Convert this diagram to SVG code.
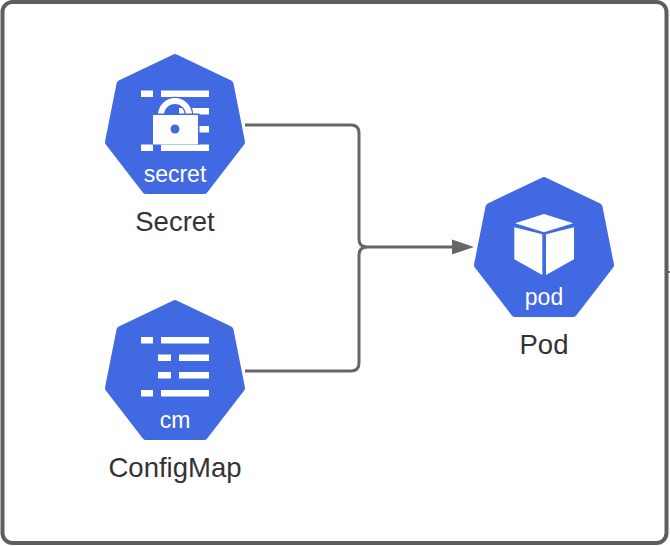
<svg xmlns="http://www.w3.org/2000/svg" width="670" height="546" viewBox="0 0 670 546">
<style>
.hept{fill:#4169e1;stroke:#4169e1;stroke-width:8;stroke-linejoin:round}
.w{fill:#fff}
.in{font:23px "Liberation Sans",Arial,sans-serif;fill:#fff;text-anchor:middle}
.lb{font:27.500px "Liberation Sans",Arial,sans-serif;fill:#333;text-anchor:middle}
.c{fill:none;stroke:#666;stroke-width:3}
</style>
<defs>
<polygon id="h" class="hept" points="70,4 124.500,30 136,88 99,136 41,136 4,88 15.500,30"/>
<marker id="arr" markerUnits="userSpaceOnUse" markerWidth="22" markerHeight="16" refX="3" refY="8" orient="auto"><path d="M0,0.500L22,8L0,15.500Z" fill="#666"/></marker>
</defs>
<rect x="2.500" y="2" width="664" height="541" rx="10" fill="#fff" stroke="#5e5e5e" stroke-width="4"/>
<path d="M668,272H670" stroke="#444" stroke-width="1.500"/>
<g id="connectors">
<path class="c" d="M245,125H351Q359,125 359,133V239Q359,247 367,247H455" marker-end="url(#arr)"/>
<path class="c" d="M245,371H351Q359,371 359,363V255Q359,247 367,247"/>
</g>
<g id="secret">
<use href="#h" x="105" y="54"/>
<rect class="w" x="141" y="90.500" width="12" height="6.500"/><rect class="w" x="161" y="90.500" width="48" height="6.500"/>
<rect class="w" x="179" y="108" width="30" height="6.500"/><rect class="w" x="198" y="126" width="11" height="6.500"/>
<rect class="w" x="141" y="144.500" width="12" height="6.500"/><rect class="w" x="161" y="144.500" width="48" height="6.500"/>
<path d="M161,116V115a14,14 0 0 1 28,0V116" fill="none" stroke="#4169e1" stroke-width="8.500"/>
<path d="M161,116V115a14,14 0 0 1 28,0V116" fill="none" stroke="#fff" stroke-width="6"/>
<rect x="151.500" y="113.500" width="48" height="31" fill="#4169e1"/>
<rect class="w" x="153" y="115" width="45" height="29.500"/>
<circle cx="175" cy="129" r="4.500" fill="#4169e1"/>
<text class="in" x="175" y="181.700">secret</text>
<text class="lb" x="175" y="231">Secret</text>
</g>
<g id="configmap">
<use href="#h" x="105" y="300"/>
<rect class="w" x="141" y="337" width="12" height="6.500"/><rect class="w" x="161" y="337" width="48" height="6.500"/>
<rect class="w" x="158" y="354.500" width="13" height="6.500"/><rect class="w" x="179" y="354.500" width="30" height="6.500"/>
<rect class="w" x="158" y="372" width="13" height="6.500"/><rect class="w" x="179" y="372" width="30" height="6.500"/>
<rect class="w" x="141" y="390" width="12" height="6.500"/><rect class="w" x="161" y="390" width="48" height="6.500"/>
<text class="in" x="175" y="428">cm</text>
<text class="lb" x="175" y="476.700">ConfigMap</text>
</g>
<g id="pod">
<use href="#h" x="474" y="177"/>
<polygon class="w" points="544,214 573.300,223.300 544,232.300 515,223.300"/>
<polygon class="w" points="514.300,227.300 542.300,234.300 542.300,275 514.300,259.300"/>
<polygon class="w" points="546,234.300 574,227.300 574,259.300 546,275"/>
<text class="in" x="544" y="305">pod</text>
<text class="lb" x="544" y="354">Pod</text>
</g>
</svg>
